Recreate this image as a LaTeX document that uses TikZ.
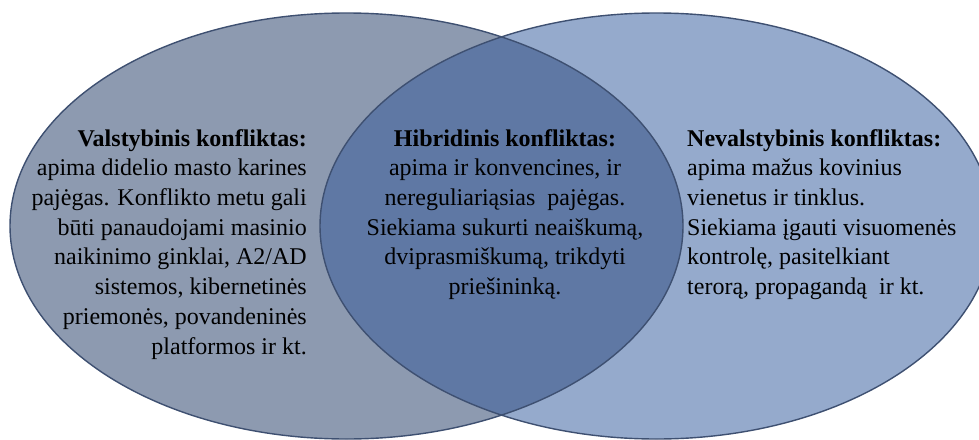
\documentclass[tikz,border=0pt]{standalone}
\usepackage{fontspec}
\setmainfont{Liberation Serif}
\definecolor{leftfill}{RGB}{141,154,176}
\definecolor{rightfill}{RGB}{149,170,204}
\definecolor{lensfill}{RGB}{95,120,164}
\definecolor{edgecol}{RGB}{62,80,113}
\begin{document}
\begin{tikzpicture}[x=1pt,y=-1pt,
  txt/.style={inner sep=0pt,font=\fontsize{24}{29.7}\selectfont,text=black},
  ring/.style={draw=edgecol,line width=1.4pt}]
\useasboundingbox (0,0) rectangle (979,439);
\fill[leftfill] (346.5,226) ellipse [x radius=336.5, y radius=213];
\fill[rightfill] (656.5,226) ellipse [x radius=336.5, y radius=213];
\begin{scope}
  \clip (346.5,226) ellipse [x radius=336.5, y radius=213];
  \fill[lensfill] (656.5,226) ellipse [x radius=336.5, y radius=213];
\end{scope}
\draw[ring] (346.5,226) ellipse [x radius=336.5, y radius=213];
\draw[ring] (656.5,226) ellipse [x radius=336.5, y radius=213];
\node[txt,align=right,anchor=north east] (valst) at (307,129)
  {\textbf{Valstybinis konfliktas:}\\apima didelio masto karines\\pajėgas. Konflikto metu gali\\būti panaudojami masinio\\naikinimo ginklai, A2/AD\\sistemos, kibernetinės\\priemonės, povandeninės\\platformos ir kt.};
\node[txt,align=center,anchor=north] (hibr) at (505,129)
  {\textbf{Hibridinis konfliktas:}\\apima ir konvencines, ir\\nereguliariąsias\ \ pajėgas.\\Siekiama sukurti neaiškumą,\\dviprasmiškumą, trikdyti\\priešininką.};
\node[txt,align=left,anchor=north west] (neval) at (687,129)
  {\textbf{Nevalstybinis konfliktas:}\\apima mažus kovinius\\vienetus ir tinklus.\\Siekiama įgauti visuomenės\\kontrolę, pasitelkiant\\terorą, propagandą\ \ ir kt.};
\end{tikzpicture}
\end{document}
